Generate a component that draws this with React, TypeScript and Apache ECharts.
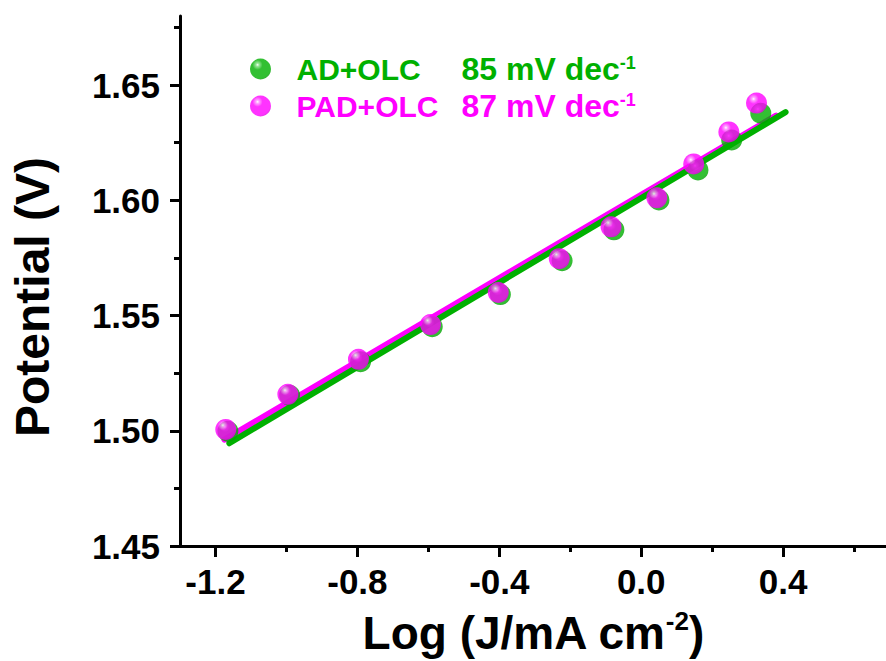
import React, { useEffect, useRef } from "react";
import * as echarts from "echarts";

// ---- data ----
const adX = [-1.165, -0.991, -0.791, -0.589, -0.397, -0.223, -0.077, 0.05, 0.16, 0.255, 0.337];
const adY = [1.4998, 1.5154, 1.530, 1.5452, 1.5591, 1.5738, 1.5872, 1.6002, 1.6132, 1.6262, 1.6378];
const padX = [-1.171, -0.996, -0.797, -0.594, -0.403, -0.231, -0.085, 0.044, 0.148, 0.247, 0.325];
const padY = [1.5006, 1.5158, 1.531, 1.5461, 1.560, 1.5747, 1.5885, 1.6011, 1.6158, 1.6297, 1.6422];
const adFitX = [-1.161, 0.407];
const adFitY = [1.4946, 1.6383];
const padFitX = [-1.175, 0.38];
const padFitY = [1.4962, 1.6368];
const xLabels = [-1.2, -0.8, -0.4, 0, 0.4];
const xMinor = [-1.0, -0.6, -0.2, 0.2, 0.6];
const yLabels = [1.45, 1.5, 1.55, 1.6, 1.65];
const yMinor = [1.475, 1.525, 1.575, 1.625, 1.675];
const names = ["AD+OLC", "PAD+OLC"];
const slopes = ["85 mV dec", "87 mV dec"];

const GREEN = "#00b000";
const MAGENTA = "#ff00ff";
const FONT = "'Liberation Sans', Arial, Helvetica, sans-serif";

function sphere(light: string, base: string, dark: string) {
  return new echarts.graphic.RadialGradient(0.36, 0.3, 0.75, [
    { offset: 0, color: "#ffffff" },
    { offset: 0.1, color: light },
    { offset: 0.32, color: base },
    { offset: 0.85, color: base },
    { offset: 1, color: dark },
  ]);
}

const zip = (xs: number[], ys: number[]) => xs.map((x, i) => [x, ys[i]]);

export default function App() {
  const ref = useRef<HTMLDivElement>(null);
  useEffect(() => {
    if (!ref.current) return;
    const chart = echarts.init(ref.current, null, { renderer: "svg" });
    const greenSphere = sphere("#7ee07e", GREEN, "#009a00");
    const magSphere = sphere("#ff90ff", MAGENTA, "#e000e0");
    const rich = (color: string) => ({
      n: { fontSize: 30, fontWeight: "bold", fontFamily: FONT, color, width: 165, lineHeight: 30 },
      v: { fontSize: 32, fontWeight: "bold", fontFamily: FONT, color, lineHeight: 30 },
      s: { fontSize: 18, fontWeight: "bold", fontFamily: FONT, color, lineHeight: 18, verticalAlign: "top" },
    });
    const legendBase = {
      orient: "horizontal",
      left: 250,
      padding: 0,
      itemWidth: 62,
      itemHeight: 21,
      selectedMode: false,
      icon: "circle",
    };
    const option: any = {
      animation: false,
      backgroundColor: "#ffffff",
      grid: { left: 178, top: 16, right: 0, bottom: 113 },
      legend: [
        {
          ...legendBase,
          top: 53,
          data: [names[0]],
          formatter: () => `{n|${names[0]}}{v|${slopes[0]}}{s|-1}`,
          textStyle: { rich: rich(GREEN) },
        },
        {
          ...legendBase,
          top: 90,
          data: [names[1]],
          formatter: () => `{n|${names[1]}}{v|${slopes[1]}}{s|-1}`,
          textStyle: { rich: rich(MAGENTA) },
        },
      ],
      xAxis: [
        {
          type: "value",
          min: -1.3,
          max: 0.69,
          position: "bottom",
          splitLine: { show: false },
          axisLine: { show: true, onZero: false, lineStyle: { color: "#000", width: 3 } },
          axisTick: { show: true, customValues: xLabels, length: 11, lineStyle: { color: "#000", width: 3 } },
          axisLabel: {
            customValues: xLabels,
            formatter: (v: number) => v.toFixed(1),
            fontSize: 35,
            fontWeight: "bold",
            fontFamily: FONT,
            color: "#000",
            margin: 18,
          },
          name: "{a|Log (J/mA cm}{s|-2}{a|)}",
          nameLocation: "middle",
          nameGap: 62,
          nameTextStyle: {
            rich: {
              a: { fontSize: 46, fontWeight: "bold", fontFamily: FONT, color: "#000", lineHeight: 50 },
              s: { fontSize: 26, fontWeight: "bold", fontFamily: FONT, color: "#000", lineHeight: 26, verticalAlign: "top" },
            },
          },
        },
        {
          type: "value",
          min: -1.3,
          max: 0.69,
          position: "bottom",
          splitLine: { show: false },
          axisLine: { show: false, onZero: false },
          axisTick: { show: true, customValues: xMinor, length: 6, lineStyle: { color: "#000", width: 3 } },
          axisLabel: { show: false },
        },
      ],
      yAxis: [
        {
          type: "value",
          min: 1.45,
          max: 1.68,
          position: "left",
          splitLine: { show: false },
          axisLine: { show: true, onZero: false, lineStyle: { color: "#000", width: 3 } },
          axisTick: { show: true, customValues: yLabels, length: 10, lineStyle: { color: "#000", width: 3 } },
          axisLabel: {
            customValues: yLabels,
            formatter: (v: number) => v.toFixed(2),
            fontSize: 35,
            fontWeight: "bold",
            fontFamily: FONT,
            color: "#000",
            margin: 20,
          },
          name: "Potential (V)",
          nameLocation: "middle",
          nameRotate: 90,
          nameGap: 124,
          nameTextStyle: { fontSize: 48, fontWeight: "bold", fontFamily: FONT, color: "#000", padding: [0, 32, 0, 0] },
        },
        {
          type: "value",
          min: 1.45,
          max: 1.68,
          position: "left",
          splitLine: { show: false },
          axisLine: { show: false, onZero: false },
          axisTick: { show: true, customValues: yMinor, length: 6, lineStyle: { color: "#000", width: 3 } },
          axisLabel: { show: false },
        },
      ],
      series: [
        {
          name: "PAD+OLC fit",
          type: "line",
          data: zip(padFitX, padFitY),
          showSymbol: false,
          symbol: "none",
          lineStyle: { color: MAGENTA, width: 6, cap: "round" },
          z: 2,
        },
        {
          name: "AD+OLC fit",
          type: "line",
          data: zip(adFitX, adFitY),
          showSymbol: false,
          symbol: "none",
          lineStyle: { color: GREEN, width: 6, cap: "round" },
          z: 3,
        },
        {
          name: names[0],
          type: "scatter",
          data: zip(adX, adY),
          symbol: "circle",
          symbolSize: 21,
          itemStyle: { color: greenSphere },
          z: 4,
        },
        {
          name: names[1],
          type: "scatter",
          data: zip(padX, padY),
          symbol: "circle",
          symbolSize: 21,
          itemStyle: { color: magSphere },
          z: 5,
        },
      ],
    };
    chart.setOption(option);
    return () => chart.dispose();
  }, []);
  return <div ref={ref} style={{ width: 886, height: 661, position: "absolute", left: 0, top: 0 }} />;
}
